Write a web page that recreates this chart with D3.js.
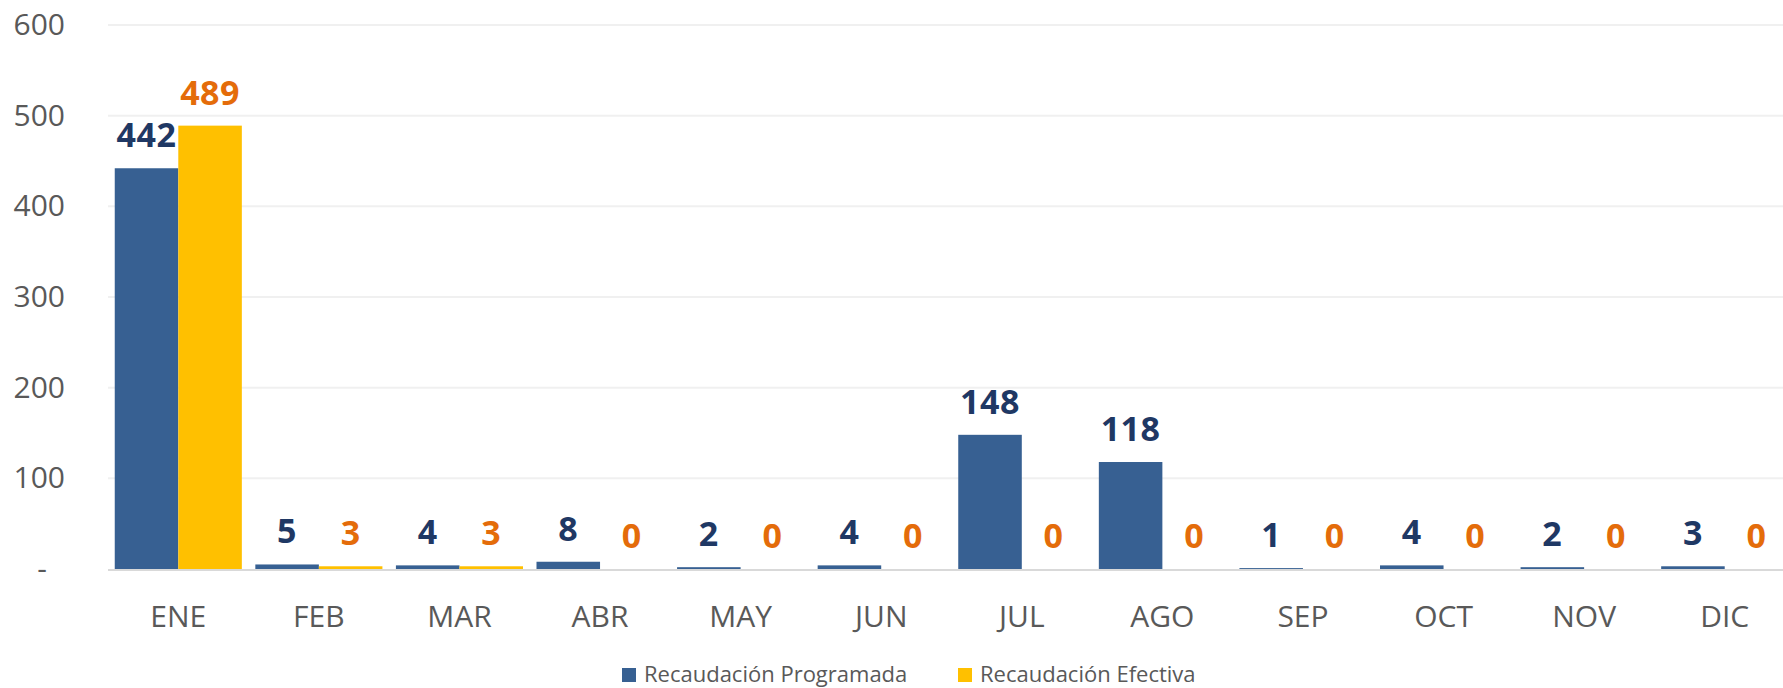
<!DOCTYPE html>
<html>
<head>
    <meta charset="utf-8">
    <title>Recaudación mensual</title>
    <script src="https://d3js.org/d3.v7.min.js"></script>
    <style>
        body { margin: 0; background: #fff; }
        text { font-family: "Open Sans", "Noto Sans", sans-serif; }
    </style>
</head>
<body>
    <div id="chart"></div>

    <script>
        // Datos
        var months = ["ENE", "FEB", "MAR", "ABR", "MAY", "JUN", "JUL", "AGO", "SEP", "OCT", "NOV", "DIC"];
        var programada = [442, 5, 4, 8, 2, 4, 148, 118, 1, 4, 2, 3];
        var efectiva = [489, 3, 3, 0, 0, 0, 0, 0, 0, 0, 0, 0];
        var seriesNames = ["Recaudación Programada", "Recaudación Efectiva"];
        var yTicks = [0, 100, 200, 300, 400, 500, 600];

        // note: "top" is window.top, so use other names
        var W = 1783, H = 688;
        var plotLeft = 108, plotRight = 1795, plotTop = 25, plotBottom = 569;

        var barColors = ["#376092", "#FFC000"];
        var labelColors = ["#1F3864", "#E46C0A"];

        var svg = d3.select("#chart").append("svg")
            .attr("width", W)
            .attr("height", H);

        var y = d3.scaleLinear().domain([0, 600]).range([plotBottom, plotTop]);

        var x0 = d3.scaleBand()
            .domain(months)
            .range([plotLeft, plotRight])
            .paddingInner(0.096)
            .paddingOuter(0.048);

        var x1 = d3.scaleBand()
            .domain(seriesNames)
            .range([0, x0.bandwidth()]);

        // gridlines
        svg.append("g").selectAll("line")
            .data(yTicks.filter(function(d) { return d > 0; }))
            .enter().append("line")
            .attr("x1", plotLeft).attr("x2", W)
            .attr("y1", function(d) { return y(d); })
            .attr("y2", function(d) { return y(d); })
            .attr("stroke", "#F0F0F0")
            .attr("stroke-width", 2);

        // y axis labels (no domain line)
        var yAxis = svg.append("g")
            .attr("transform", "translate(65,0)")
            .call(d3.axisLeft(y).tickValues(yTicks).tickSize(0).tickPadding(0)
                .tickFormat(function(d) { return d === 0 ? "-" : d; }));
        yAxis.select(".domain").remove();
        yAxis.selectAll("text")
            .attr("font-size", 30)
            .attr("fill", "#595959")
            .attr("font-family", "Open Sans")
            .attr("x", function(d) { return d === 0 ? -18 : 0; });

        // bars
        var rows = months.map(function(m, i) {
            return { month: m, values: [programada[i], efectiva[i]] };
        });

        var groups = svg.append("g").selectAll("g")
            .data(rows)
            .enter().append("g")
            .attr("transform", function(d) { return "translate(" + x0(d.month) + ",0)"; });

        groups.selectAll("rect")
            .data(function(d) { return d.values.map(function(v, k) { return { k: k, v: v }; }); })
            .enter().append("rect")
            .attr("x", function(d) { return x1(seriesNames[d.k]); })
            .attr("width", x1.bandwidth())
            .attr("y", function(d) { return y(d.v); })
            .attr("height", function(d) { return plotBottom - y(d.v); })
            .attr("fill", function(d) { return barColors[d.k]; });

        groups.selectAll("text")
            .data(function(d) { return d.values.map(function(v, k) { return { k: k, v: v }; }); })
            .enter().append("text")
            .attr("x", function(d) { return x1(seriesNames[d.k]) + x1.bandwidth() / 2; })
            .attr("y", function(d) { return y(d.v) - 21; })
            .attr("text-anchor", "middle")
            .attr("font-size", 34)
            .attr("font-weight", "bold")
            .attr("letter-spacing", 0.5)
            .attr("fill", function(d) { return labelColors[d.k]; })
            .text(function(d) { return d.v; });

        // baseline
        svg.append("line")
            .attr("x1", plotLeft).attr("x2", W)
            .attr("y1", plotBottom + 1).attr("y2", plotBottom + 1)
            .attr("stroke", "#D9D9D9")
            .attr("stroke-width", 2);

        // x axis labels
        var xAxis = svg.append("g")
            .attr("transform", "translate(0," + plotBottom + ")")
            .call(d3.axisBottom(x0).tickSize(0).tickPadding(0));
        xAxis.select(".domain").remove();
        xAxis.selectAll("text")
            .attr("font-size", 30)
            .attr("fill", "#595959")
            .attr("font-family", "Open Sans")
            .attr("dy", null)
            .attr("y", 58);

        // legend
        var legendX = [622, 958];
        var legend = svg.append("g").selectAll("g")
            .data(seriesNames)
            .enter().append("g")
            .attr("transform", function(d, i) { return "translate(" + legendX[i] + ",668)"; });
        legend.append("rect")
            .attr("width", 14).attr("height", 14)
            .attr("fill", function(d, i) { return barColors[i]; });
        legend.append("text")
            .attr("x", 22).attr("y", 13.5)
            .attr("font-size", 22)
            .attr("fill", "#595959")
            .text(function(d) { return d; });
    </script>
</body>
</html>
